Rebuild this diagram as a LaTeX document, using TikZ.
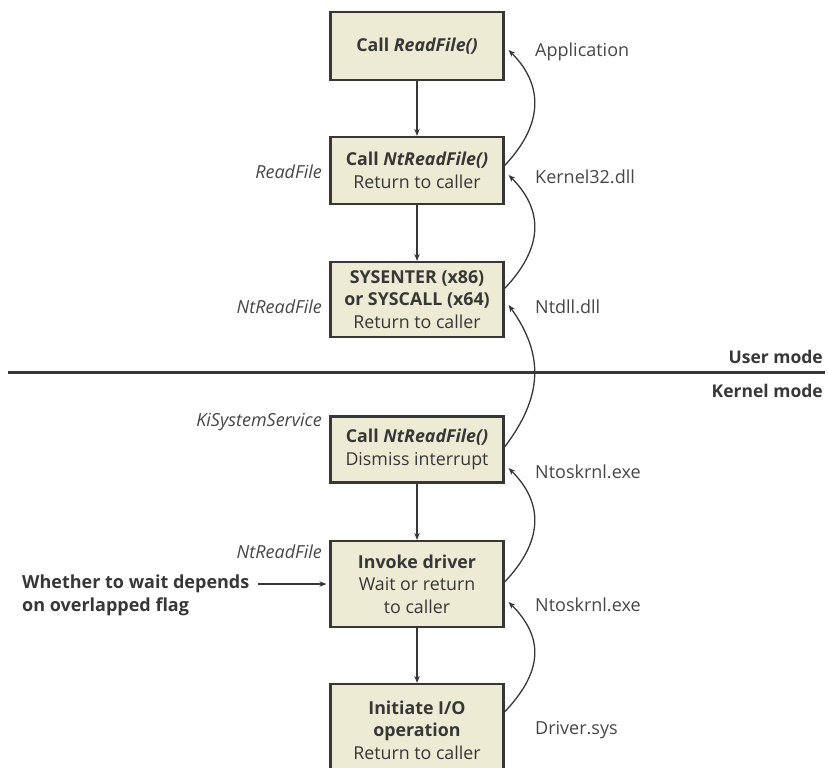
\documentclass[tikz,border=0pt]{standalone}
\usepackage{fontspec}
\setmainfont{Open Sans}
\usetikzlibrary{arrows.meta,calc}
\definecolor{boxfill}{RGB}{237,235,211}
\definecolor{ink}{RGB}{55,55,55}
\definecolor{lbl}{RGB}{70,70,70}
\begin{document}
\begin{tikzpicture}[x=1pt,y=-1pt,
  stepbox/.style={draw=ink,line width=2.2pt,fill=boxfill,text=ink,minimum width=173pt,align=center,inner sep=1pt,
     font=\fontsize{17.8}{22.5}\selectfont},
  rlbl/.style={anchor=west,text=lbl,font=\fontsize{18}{20}\selectfont,inner sep=0pt},
  llbl/.style={anchor=east,text=lbl,font=\fontsize{18}{20}\selectfont\itshape,inner sep=0pt},
  varr/.style={draw=ink,line width=1.3pt,-{Stealth[length=7pt,width=5.5pt]}},
  carr/.style={draw=ink,line width=1.3pt,-{Stealth[length=7pt,width=5.5pt]}},
  modelbl/.style={anchor=east,text=ink,font=\fontsize{17.5}{20}\selectfont\bfseries,inner sep=0pt}]
\useasboundingbox (0,0) rectangle (828,768);

\node[stepbox,minimum height=68pt] (b1) at (417,46) {\textbf{Call \textit{ReadFile()}}};
\node[stepbox,minimum height=67pt] (b2) at (417,170.5) {\textbf{Call \textit{NtReadFile()}}\\Return to caller};
\node[stepbox,minimum height=75pt] (b3) at (417,299.5) {\textbf{SYSENTER (x86)}\\\textbf{or SYSCALL (x64)}\\Return to caller};
\node[stepbox,minimum height=66pt] (b4) at (417,449.5) {\textbf{Call \textit{NtReadFile()}}\\Dismiss interrupt};
\node[stepbox,minimum height=86pt] (b5) at (417,584) {\textbf{Invoke driver}\\Wait or return\\to caller};
\node[stepbox,minimum height=92pt] (b6) at (417,730) {\textbf{Initiate I/O}\\\textbf{operation}\\Return to caller};

% vertical arrows
\draw[varr] (b1.south) -- (b2.north);
\draw[varr] (b2.south) -- (b3.north);
\draw[varr] (b4.south) -- (b5.north);
\draw[varr] (b5.south) -- (b6.north);

% curved return arrows
\draw[carr] ([yshift=5pt]b2.east) .. controls +(38,-40) and +(36,36) .. ([xshift=4pt,yshift=-4pt]b1.east);
\draw[carr] ([yshift=11pt]b3.east) .. controls +(38,-40) and +(36,36) .. ([xshift=4pt,yshift=-4.5pt]b2.east);
\draw[carr] ([yshift=2.5pt]b4.east) .. controls +(38,-50) and +(36,50) .. ([xshift=4pt,yshift=-5.5pt]b3.east);
\draw[carr] ([yshift=2pt]b5.east) .. controls +(38,-40) and +(36,36) .. ([xshift=4pt,yshift=-18.5pt]b4.east);
\draw[carr] ([yshift=-29pt]b6.north east) .. controls +(38,-40) and +(36,36) .. ([xshift=4pt,yshift=-18pt]b5.east);

% right labels
\node[rlbl] (lapp) at (535,52) {Application};
\node[rlbl] (lk32) at (535,177) {Kernel32.dll};
\node[rlbl] (lntd) at (535,307) {Ntdll.dll};
\node[rlbl] (lnt1) at (535,472) {Ntoskrnl.exe};
\node[rlbl] (lnt2) at (535,605) {Ntoskrnl.exe};
\node[rlbl] (ldrv) at (535,730) {Driver.sys};

% left labels
\node[llbl] (rf) at (322,172) {ReadFile};
\node[llbl] (nrf1) at (322,307) {NtReadFile};
\node[llbl] (kss) at (322,422) {KiSystemService};
\node[llbl] (nrf2) at (322,552) {NtReadFile};

% mode line
\coordinate (ml) at (8,372);
\coordinate (mr) at (825,372);
\draw[draw=ink,line width=3pt] (ml) -- (mr);
\node[modelbl] (um) at (823,357) {User mode};
\node[modelbl] (km) at (823,391) {Kernel mode};

% whether note
\node[anchor=west,align=left,text=ink,inner sep=0pt,font=\fontsize{18}{23}\selectfont\bfseries] (wt) at (22,595.5) {Whether to wait depends\\on overlapped flag};
\coordinate (wa) at (258,584);
\draw[varr,shorten >=3pt] (wa) -- (b5.west);
\end{tikzpicture}
\end{document}
